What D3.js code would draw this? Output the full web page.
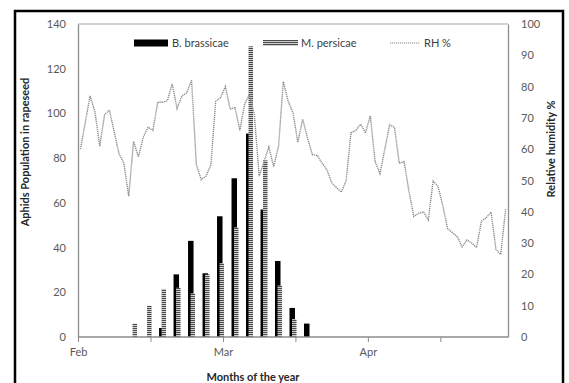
<!DOCTYPE html>
<html>
<head>
<meta charset="utf-8">
<script src="https://cdn.jsdelivr.net/npm/d3@7"></script>
<style>
  html, body { margin: 0; padding: 0; background: #fff; }
  svg { display: block; font-family: Lato, "Open Sans", sans-serif; }
</style>
</head>
<body>
<div id="chart"></div>
<script>
// sampling days (days after 1 Feb) for aphid counts
const sampleDays = [11, 14, 17, 20, 23, 26, 29, 32, 35, 38, 41, 44, 47];
const brassicae = [0, 0, 4, 28, 43, 28.5, 54, 71, 91, 57, 34, 13, 6];
const persicae = [6, 14, 21.5, 22, 19.5, 28, 33, 49, 130, 79, 23, 8, 0];

// daily relative humidity, 1 Feb .. 30 Apr
const rhValues = [
  60, 68.5, 77, 72, 61, 71, 72.5, 65.5, 58.5, 55.5,
  45, 62.5, 57.5, 63.8, 67, 66, 75, 75, 75.5, 80.9,
  73, 77, 78, 82, 55, 50.3, 51.4, 55, 75.3, 76.5,
  80, 72.8, 73.3, 66, 74.5, 77.5, 71, 51.4, 56, 60.7,
  54.4, 60.9, 81.6, 75.3, 71.6, 62.2, 69.6, 63.6, 58.3, 58,
  55.6, 53.5, 49.3, 47.7, 46.3, 50, 65.2, 66, 68, 65.2,
  70.7, 56, 52.2, 60, 67.8, 67, 55.5, 56, 46.5, 38.5,
  39.5, 40, 37.4, 49.8, 48.2, 42, 34.6, 33.3, 32.1, 28.8,
  31, 30, 28.6, 37, 38.1, 39.9, 28, 26.4, 40.8
];

const xTickDays = [0, 15, 30, 45, 60, 75];
const xTickLabels = ['Feb', '', 'Mar', '', 'Apr', ''];
const leftTicks = [0, 20, 40, 60, 80, 100, 120, 140];
const rightTicks = [0, 10, 20, 30, 40, 50, 60, 70, 80, 90, 100];

const W = 569, H = 383;
const plot = { left: 78, right: 508, top: 24, bottom: 337 };

const svg = d3.select('#chart').append('svg')
  .attr('width', W)
  .attr('height', H);

// hatch for M. persicae
const defs = svg.append('defs');
const pat = defs.append('pattern')
  .attr('id', 'hatch')
  .attr('patternUnits', 'userSpaceOnUse')
  .attr('width', 4)
  .attr('height', 2);
pat.append('rect').attr('width', 4).attr('height', 2).attr('fill', '#cfcfcf');
pat.append('rect').attr('width', 4).attr('height', 1).attr('fill', '#4a4a4a');

const x = d3.scaleLinear().domain([0, rhValues.length]).range([plot.left, plot.right]);
const yLeft = d3.scaleLinear().domain([0, 140]).range([plot.bottom, plot.top]);
const yRight = d3.scaleLinear().domain([0, 100]).range([plot.bottom, plot.top]);

// outer frame
svg.append('rect')
  .attr('x', 15).attr('y', 11)
  .attr('width', 548).attr('height', 420)
  .attr('fill', 'none')
  .attr('stroke', '#000')
  .attr('stroke-width', 2.5);

// plot area border (top)
svg.append('line')
  .attr('x1', plot.left).attr('x2', plot.right)
  .attr('y1', plot.top).attr('y2', plot.top)
  .attr('stroke', '#c4c4c4').attr('stroke-width', 1.5);

// left axis
const gLeft = svg.append('g').attr('transform', `translate(${plot.left},0)`)
  .call(d3.axisLeft(yLeft).tickValues(leftTicks).tickSize(0).tickPadding(12));
// right axis
const gRight = svg.append('g').attr('transform', `translate(${plot.right},0)`)
  .call(d3.axisRight(yRight).tickValues(rightTicks).tickSize(0).tickPadding(13));

[gLeft, gRight].forEach(g => {
  g.select('.domain').attr('stroke', '#8c8c8c').attr('stroke-width', 1.3);
  g.selectAll('text').attr('font-size', 11).attr('fill', '#595959')
    .attr('font-family', 'Lato, sans-serif');
});

// bars
const barW1 = 5.5, barW2 = 4.5;
svg.append('g').selectAll('rect')
  .data(sampleDays.map((d, i) => ({ d, v: brassicae[i] })))
  .join('rect')
  .attr('x', p => x(p.d + 0.5) - 3.5)
  .attr('y', p => yLeft(p.v))
  .attr('width', barW1)
  .attr('height', p => yLeft(0) - yLeft(p.v))
  .attr('fill', '#000');

svg.append('g').selectAll('rect')
  .data(sampleDays.map((d, i) => ({ d, v: persicae[i] })))
  .join('rect')
  .attr('x', p => x(p.d + 0.5) - 1)
  .attr('y', p => yLeft(p.v))
  .attr('width', barW2)
  .attr('height', p => yLeft(0) - yLeft(p.v))
  .attr('fill', 'url(#hatch)');

// RH line
const line = d3.line()
  .x((v, i) => x(i + 0.5))
  .y(v => yRight(v));
svg.append('path')
  .datum(rhValues)
  .attr('d', line)
  .attr('fill', 'none')
  .attr('stroke', '#8a8a8a')
  .attr('stroke-width', 1.4)
  .attr('stroke-dasharray', '1.2,0.8');

// x axis
const gX = svg.append('g').attr('transform', `translate(0,${plot.bottom})`)
  .call(d3.axisBottom(x).tickValues(xTickDays)
    .tickFormat((d, i) => xTickLabels[i]).tickSize(5).tickPadding(6));
gX.select('.domain').attr('stroke', '#8c8c8c').attr('stroke-width', 1.3)
  .attr('d', `M${plot.left},0H${plot.right}`);
gX.selectAll('.tick line').attr('stroke', '#8c8c8c');
gX.selectAll('text').attr('font-size', 11).attr('fill', '#595959')
  .attr('font-family', 'Lato, sans-serif');

// axis titles
svg.append('text')
  .attr('transform', 'translate(29,152) rotate(-90)')
  .attr('text-anchor', 'middle')
  .attr('font-size', 11).attr('font-weight', 'bold').attr('fill', '#262626')
  .text('Aphids Population in rapeseed');
svg.append('text')
  .attr('transform', 'translate(555,149) rotate(-90)')
  .attr('text-anchor', 'middle')
  .attr('font-size', 11).attr('font-weight', 'bold').attr('fill', '#262626')
  .text('Relative humidity %');
svg.append('text')
  .attr('x', 253).attr('y', 381)
  .attr('text-anchor', 'middle')
  .attr('font-size', 11).attr('font-weight', 'bold').attr('fill', '#262626')
  .text('Months of the year');

// legend
const leg = svg.append('g').attr('font-size', 11).attr('fill', '#404040');
leg.append('rect').attr('x', 134).attr('y', 39.5).attr('width', 34).attr('height', 7).attr('fill', '#000');
leg.append('text').attr('x', 172).attr('y', 47).text('B. brassicae');
leg.append('rect').attr('x', 263).attr('y', 40).attr('width', 35).attr('height', 6).attr('fill', 'url(#hatch)');
leg.append('text').attr('x', 301).attr('y', 47).text('M. persicae');
leg.append('line').attr('x1', 390).attr('x2', 420).attr('y1', 43).attr('y2', 43)
  .attr('stroke', '#8a8a8a').attr('stroke-width', 1.2).attr('stroke-dasharray', '1.2,0.8');
leg.append('text').attr('x', 424).attr('y', 47).text('RH %');
</script>
</body>
</html>
